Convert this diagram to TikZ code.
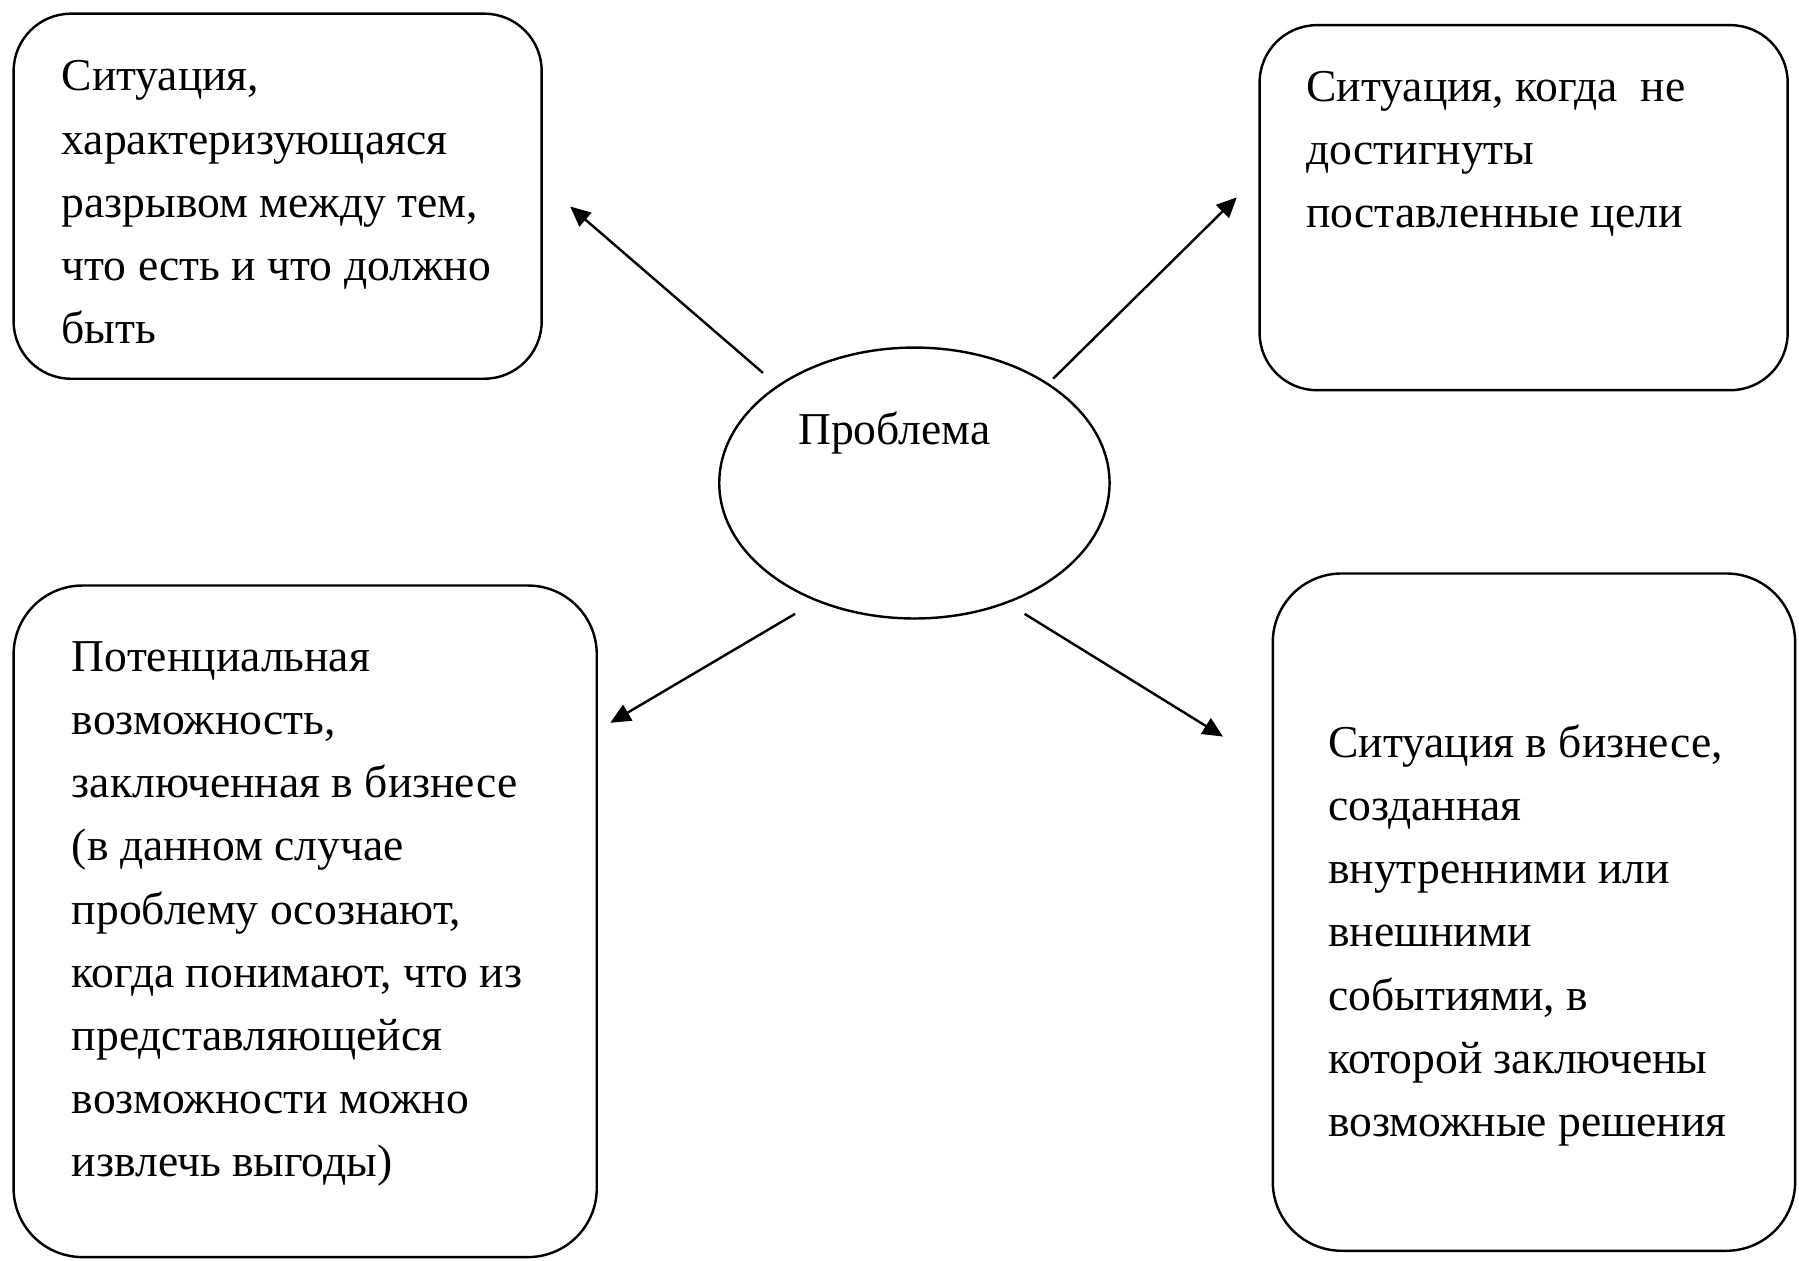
\documentclass[tikz,border=0pt]{standalone}
\usepackage{fontspec}
\setmainfont{Liberation Serif}
\usetikzlibrary{shapes.geometric,arrows.meta}
\tikzset{
  box/.style={draw, line width=0.6pt, rounded corners=0.5cm, inner sep=0pt},
  txt/.style={anchor=north west, inner sep=0pt, align=left, font=\fontsize{11.3}{15.65}\selectfont},
  arr/.style={line width=0.6pt, -{Triangle[length=5pt,width=4.5pt]}}
}
\begin{document}
\begin{tikzpicture}[x=0.01cm,y=-0.01cm]
\useasboundingbox (0,0) rectangle (1568,1099);
% boxes
\node[box, minimum width=4.6cm, minimum height=3.18cm] (b1) at (242,171) {};
\node[box, minimum width=4.6cm, minimum height=3.18cm] (b2) at (1328,181) {};
\node[box, rounded corners=0.6cm, minimum width=5.08cm, minimum height=5.85cm] (b3) at (266,803) {};
\node[box, rounded corners=0.6cm, minimum width=4.55cm, minimum height=5.9cm] (b4) at (1337,795) {};
\node[draw, ellipse, line width=0.6pt, inner sep=0pt, minimum width=3.4cm, minimum height=2.36cm] (e) at (797,421) {};
% texts
\node[txt] (t1) at (53,40) {\strut Ситуация,\\характеризующаяся\\разрывом между тем,\\что есть и что должно\\быть};
\node[txt] (t2) at (1138,49) {\strut Ситуация, когда\ \ не\\достигнуты\\поставленные цели};
\node[txt, anchor=base west] (t3) at (695,387) {Проблема};
\node[txt] (t4) at (62,546) {\strut Потенциальная\\возможность,\\заключенная в бизнесе\\(в данном случае\\проблему осознают,\\когда понимают, что из\\представляющейся\\возможности можно\\извлечь выгоды)};
\node[txt] (t5) at (1157,621) {\strut Ситуация в бизнесе,\\созданная\\внутренними или\\внешними\\событиями, в\\которой заключены\\возможные решения};
% arrows
\coordinate (a1s) at (665,325); \coordinate (a1e) at (497,180);
\coordinate (a2s) at (918,330); \coordinate (a2e) at (1078,172);
\coordinate (a3s) at (693,535); \coordinate (a3e) at (532,630);
\coordinate (a4s) at (893,535); \coordinate (a4e) at (1066,642);
\draw[arr] (a1s) -- (a1e);
\draw[arr] (a2s) -- (a2e);
\draw[arr] (a3s) -- (a3e);
\draw[arr] (a4s) -- (a4e);
\end{tikzpicture}
\end{document}
